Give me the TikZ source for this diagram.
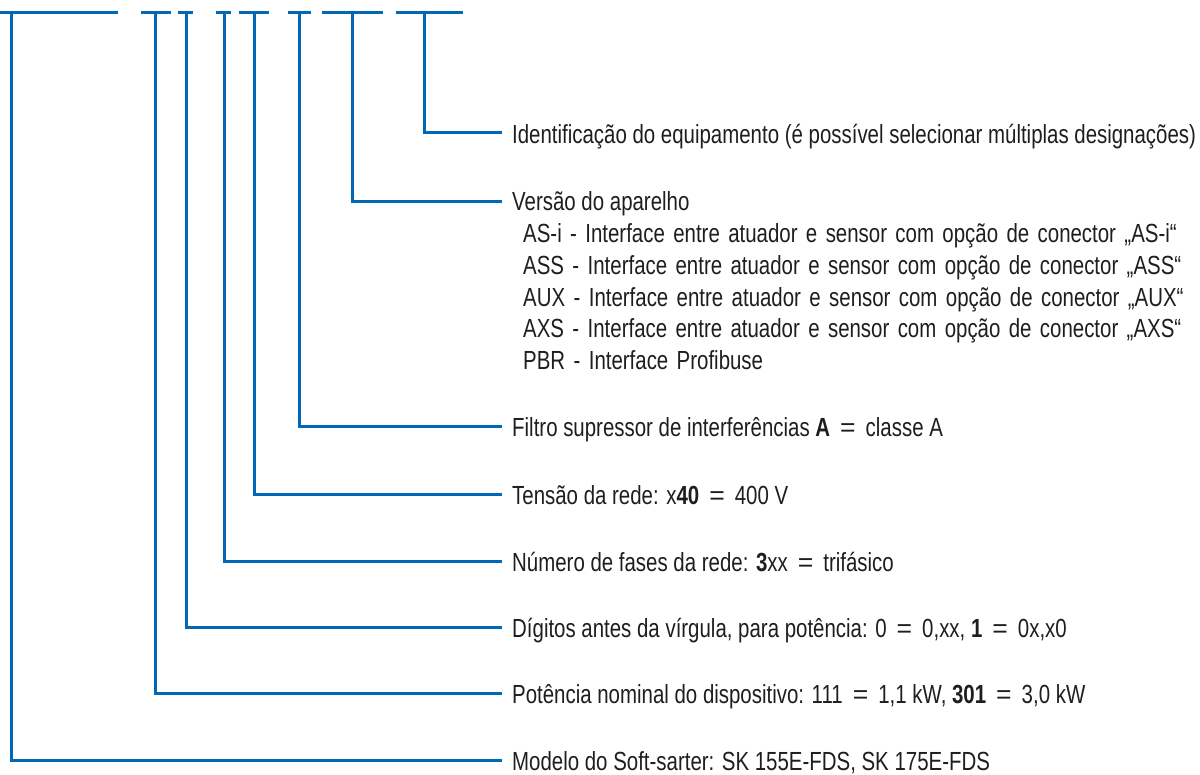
\documentclass[tikz,border=0pt]{standalone}
\usepackage{fontspec}
\setmainfont[FakeStretch=0.78]{Liberation Sans}
\definecolor{nblue}{HTML}{0068B4}
\definecolor{ntext}{HTML}{1E1E1E}
\newcommand{\eqs}{\hspace{10pt}\scalebox{1.3}[1]{=}\hspace{10pt}}
\newcommand{\widesp}{\spaceskip 8.4pt plus 2pt minus 1pt\relax}
\begin{document}
\begin{tikzpicture}[x=1pt,y=-1pt,
  bar/.style={draw=nblue,line width=3pt,line cap=butt},
  conn/.style={draw=nblue,line width=3pt,line join=miter},
  lbl/.style={anchor=base west,inner sep=0pt,text=ntext,font=\fontsize{26.2}{30}\selectfont},
  sublbl/.style={lbl,execute at begin node=\widesp}]
\useasboundingbox (0,0) rectangle (1200,775);
% top bars
\draw[bar] (0,13) -- (118,13);
\draw[bar] (141,13) -- (171,13);
\draw[bar] (178,13) -- (193,13);
\draw[bar] (216,13) -- (231,13);
\draw[bar] (239,13) -- (269,13);
\draw[bar] (288,13) -- (311,13);
\draw[bar] (322,13) -- (383,13);
\draw[bar] (396,13) -- (463,13);
% tick coordinates
\coordinate (t1) at (11,13);
\coordinate (t2) at (155,13);
\coordinate (t3) at (186,13);
\coordinate (t4) at (224,13);
\coordinate (t5) at (254,13);
\coordinate (t6) at (299,13);
\coordinate (t7) at (352,13);
\coordinate (t8) at (424,13);
% connector ends
\coordinate (e8) at (502,133);
\coordinate (e7) at (502,202);
\coordinate (e6) at (502,427);
\coordinate (e5) at (502,494);
\coordinate (e4) at (502,561);
\coordinate (e3) at (502,627);
\coordinate (e2) at (502,693);
\coordinate (e1) at (502,760);
% labels
\node[lbl] (l8) at (512,144) {Identificação do equipamento (é possível selecionar múltiplas designações)};
\node[lbl] (l7) at (512,211) {Versão do aparelho};
\node[sublbl] (l7a) at (523,243) {AS-i - Interface entre atuador e sensor com opção de conector „AS-i“};
\node[sublbl] (l7b) at (523,275) {ASS - Interface entre atuador e sensor com opção de conector „ASS“};
\node[sublbl] (l7c) at (523,307) {AUX - Interface entre atuador e sensor com opção de conector „AUX“};
\node[sublbl] (l7d) at (523,338) {AXS - Interface entre atuador e sensor com opção de conector „AXS“};
\node[sublbl] (l7e) at (523,370) {PBR - Interface Profibuse};
\node[lbl] (l6) at (512,437) {Filtro supressor de interferências \textbf{A}\eqs classe A};
\node[lbl] (l5) at (512,504) {Tensão da rede: x\textbf{40}\eqs 400 V};
\node[lbl] (l4) at (512,571) {Número de fases da rede: \textbf{3}xx\eqs trifásico};
\node[lbl] (l3) at (512,637) {Dígitos antes da vírgula, para potência: 0\eqs 0,xx, \textbf{1}\eqs 0x,x0};
\node[lbl] (l2) at (512,703) {Potência nominal do dispositivo: 111\eqs 1,1 kW, \textbf{301}\eqs 3,0 kW};
\node[lbl] (l1) at (512,770) {Modelo do Soft-sarter: SK 155E-FDS, SK 175E-FDS};
% connectors
\foreach \i in {1,...,8}{\draw[conn] (t\i) |- (e\i);}
\end{tikzpicture}
\end{document}
